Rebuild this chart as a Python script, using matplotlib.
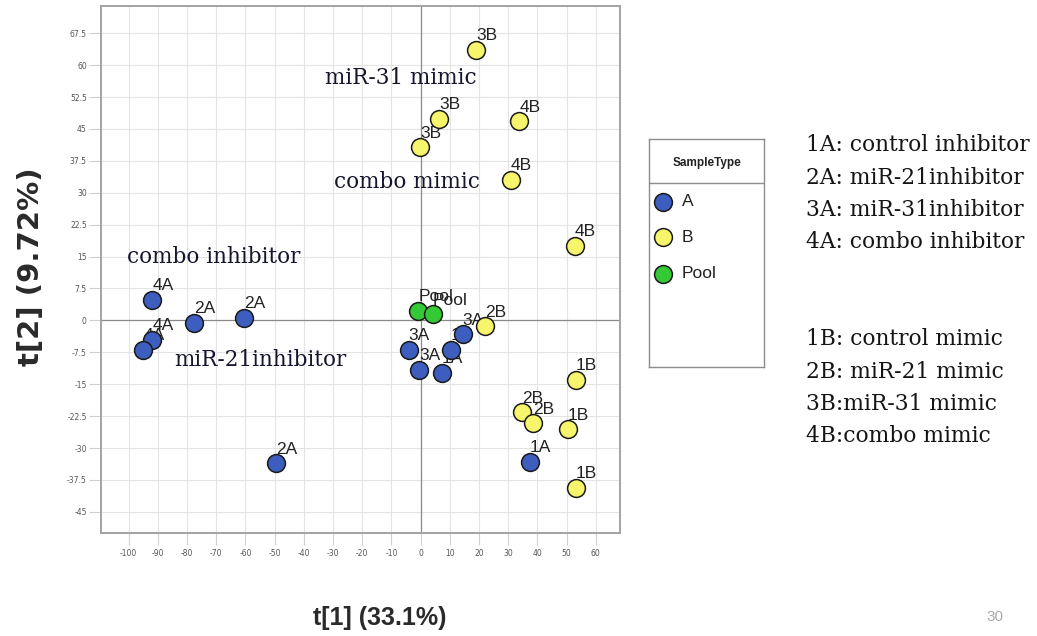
import matplotlib
matplotlib.use("Agg")
import matplotlib.pyplot as plt
import numpy as np

# ---- scores: group A (inhibitors) ----
a_labels = ["4A", "2A", "2A", "4A", "4A", "3A", "3A", "1A", "1A", "3A", "1A", "2A"]
a_t1 = [-91.9, -77.7, -60.4, -91.9, -95.0, -4.1, -0.6, 10.4, 7.3, 14.4, 37.5, -49.4]
a_t2 = [4.9, -0.5, 0.6, -4.5, -6.9, -6.9, -11.6, -6.9, -12.4, -3.3, -33.2, -33.6]

# ---- scores: group B (mimics) ----
b_labels = ["3B", "3B", "3B", "4B", "4B", "4B", "2B", "1B", "2B", "2B", "1B", "1B"]
b_t1 = [19.1, 6.3, -0.2, 33.8, 30.8, 52.9, 22.1, 53.1, 34.6, 38.4, 50.5, 53.1]
b_t2 = [63.6, 47.3, 40.7, 46.8, 33.0, 17.6, -1.4, -14.0, -21.6, -24.2, -25.6, -39.3]

# ---- scores: pooled QC samples ----
p_labels = ["Pool", "Pool"]
p_t1 = [-0.8, 4.1]
p_t2 = [2.2, 1.4]

# group annotations inside the score plot
group_names = ["miR-31 mimic", "combo mimic", "combo inhibitor", "miR-21inhibitor"]
group_t1 = [-6.8, -4.6, -70.8, -54.9]
group_t2 = [55.5, 31.2, 13.5, -10.7]

# key to the sample codes
key_a = ["1A: control inhibitor", "2A: miR-21inhibitor", "3A: miR-31inhibitor", "4A: combo inhibitor"]
key_b = ["1B: control mimic", "2B: miR-21 mimic", "3B:miR-31 mimic", "4B:combo mimic"]

x_ticks = list(range(-100, 61, 10))
y_ticks = [-45, -37.5, -30, -22.5, -15, -7.5, 0, 7.5, 15, 22.5, 30, 37.5, 45, 52.5, 60, 67.5]

legend_names = ["A", "B", "Pool"]
colors = {"A": "#3d5dbf", "B": "#f6f56c", "Pool": "#36c936"}

W, H = 1037, 636
fig = plt.figure(figsize=(W / 100, H / 100), dpi=100)
fig.patch.set_facecolor("white")


def fx(px):
    return px / W


def fy(py):
    return 1 - py / H


ax = fig.add_axes([fx(100.7), fy(532.7), fx(620) - fx(100.7), fy(6) - fy(532.7)])
ax.set_xlim(-109.6, 68.3)
ax.set_ylim(-49.9, 73.9)

ax.set_xticks(x_ticks)
ax.set_yticks(y_ticks)
ax.set_xticklabels([str(v) for v in x_ticks])
ax.set_yticklabels([("%g" % v) for v in y_ticks])
ax.tick_params(axis="x", length=8.5, width=0.8, color="#d0d0d0", pad=3,
               labelsize=5.5, labelcolor="#555555")
ax.tick_params(axis="y", length=9, width=0.8, color="#d0d0d0", pad=1,
               labelsize=5.5, labelcolor="#555555")
ax.grid(True, color="#e4e4e4", linewidth=0.8, zorder=0)
ax.set_axisbelow(True)
for s in ax.spines.values():
    s.set_color("#a3a3a3")
    s.set_linewidth(1.4)
ax.axhline(0, color="#8a8a8a", linewidth=0.9, zorder=1)
ax.axvline(0, color="#8a8a8a", linewidth=0.9, zorder=1)

marker_size = 165
label_font = ["Liberation Sans", "DejaVu Sans"]

for labs, xs, ys, key in [(a_labels, a_t1, a_t2, "A"),
                          (b_labels, b_t1, b_t2, "B"),
                          (p_labels, p_t1, p_t2, "Pool")]:
    for lab, x, y in zip(labs, xs, ys):
        ax.annotate(lab, (x, y), xytext=(0, 7), textcoords="offset points",
                    ha="left", va="baseline", fontsize=12.5, color="#222222",
                    family=label_font, zorder=3)
    ax.scatter(xs, ys, s=marker_size, c=colors[key], edgecolors="#1a1a1a",
               linewidths=1.1, zorder=4)

for name, x, y in zip(group_names, group_t1, group_t2):
    ax.text(x, y, name, ha="center", va="baseline", fontsize=15.5,
            family="DejaVu Serif", color="#15152e", zorder=5)

# axis titles
fig.text(fx(380), fy(618), "t[1] (33.1%)", ha="center", va="center",
         fontsize=18, fontweight="bold", family=label_font, color="#2a2a2a")
fig.text(fx(31), fy(267), "t[2] (9.72%)", ha="center", va="center", rotation=90,
         fontsize=21, fontweight="bold", family="DejaVu Sans", color="#2a2a2a")

# legend box
lx0, ly0, lx1, ly1 = 649, 139, 764, 367
lax = fig.add_axes([fx(lx0), fy(ly1), fx(lx1) - fx(lx0), fy(ly0) - fy(ly1)])
lax.set_xlim(0, lx1 - lx0)
lax.set_ylim(ly1 - ly0, 0)
lax.set_xticks([])
lax.set_yticks([])
for s in lax.spines.values():
    s.set_color("#8c8c8c")
    s.set_linewidth(1.0)
lax.axhline(44, color="#8c8c8c", linewidth=1.0)
lax.text(58, 24, "SampleType", ha="center", va="center", fontsize=8.5,
         fontweight="bold", family=label_font, color="#222222")
for i, name in enumerate(legend_names):
    yy = [63, 98, 135][i]
    lax.scatter([14], [yy], s=marker_size, c=colors[name], edgecolors="#1a1a1a",
                linewidths=1.1, clip_on=False)
    lax.text(33, yy, name, ha="left", va="center", fontsize=12.5,
             family=label_font, color="#222222")

# sample code key
for i, t in enumerate(key_a):
    fig.text(fx(806), fy(151 + 32.5 * i), t, ha="left", va="baseline",
             fontsize=15.7, family="DejaVu Serif", color="#151515")
for i, t in enumerate(key_b):
    fig.text(fx(806), fy(345 + 32.5 * i), t, ha="left", va="baseline",
             fontsize=15.7, family="DejaVu Serif", color="#151515")

fig.text(fx(995), fy(617), "30", ha="center", va="center", fontsize=11,
         family=label_font, color="#a8a8a8")

fig.savefig("out.png", dpi=100)
